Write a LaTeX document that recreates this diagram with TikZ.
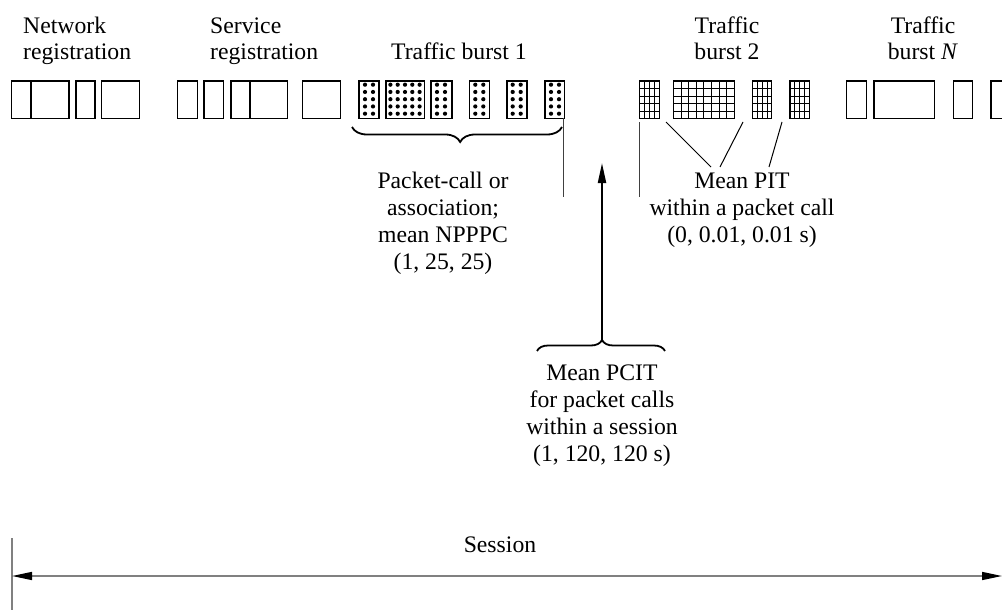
\documentclass[tikz,border=0pt]{standalone}
\usepackage{fontspec}
\setmainfont{Liberation Serif}
\usetikzlibrary{decorations.pathreplacing,arrows.meta}
\begin{document}
\begin{tikzpicture}[x=1pt,y=-1pt,
  box/.style={draw=black,line width=1.3pt},
  dotbox/.style={draw=black,line width=1.6pt},
  gridln/.style={draw=black,line width=0.8pt},
  lbl/.style={font=\fontsize{23.7}{27}\selectfont,inner sep=0pt,anchor=base,align=center},
  lbll/.style={font=\fontsize{23.7}{27}\selectfont,inner sep=0pt,anchor=base west,align=left},
  thinln/.style={draw=black!75,line width=1.2pt},
  pitln/.style={draw=black,line width=1pt},
  bracestyle/.style={draw=black,line width=1.8pt,decorate},
  sessln/.style={draw=black!50,line width=1.5pt},
  tipA/.tip={Triangle[length=20pt,width=8pt,color=black]}
]
\useasboundingbox (0,0) rectangle (1002,610);

% ---- plain boxes ----
\foreach \a/\b in {11.7/31,31/69,76/95,101.7/139.3,
                   177.5/197.5,204/223.3,231/250,250/287.3,302.7/340.7,
                   846.7/866.7,874/934.3,953.3/972.3}
  {\draw[box] (\a,81) rectangle (\b,118.5);}
\draw[box,line width=2pt] (31,81) -- (31,118.5);
\draw[box,line width=2pt] (250,81) -- (250,118.5);
\draw[box] (1003,81) -- (991,81) -- (991,118.5) -- (1003,118.5);

% ---- dotted boxes (traffic burst 1) ----
\foreach \a/\b in {359/379,431/451.7,469.3/489.3,506.7/526.7,545/564.3}{
  \draw[dotbox] (\a,81) rectangle (\b,118.5);
  \foreach \r in {0,...,4}{
    \fill ({\a+6},{84.7+7.25*\r}) circle (2.1);
    \fill ({\a+14},{84.7+7.25*\r}) circle (2.1);
  }
}
\draw[dotbox] (385.7,81) rectangle (424.3,118.5);
\foreach \c in {0,...,4}{
  \foreach \r in {0,...,4}{
    \fill ({390.4+7.3*\c},{84.7+7.25*\r}) circle (2.1);
  }
}

% ---- grid boxes (traffic burst 2) ----
\foreach \a/\b/\n in {639.3/659.3/4,673.3/734.3/8,752.7/771.7/4,790/809.3/4}{
  \foreach \k in {1,...,4}{
    \draw[gridln] (\a,{81+7.5*\k}) -- (\b,{81+7.5*\k});
  }
  \pgfmathtruncatemacro\m{\n-1}
  \foreach \k in {1,...,\m}{
    \draw[gridln] ({\a+(\b-\a)*\k/\n},81) -- ({\a+(\b-\a)*\k/\n},118.5);
  }
  \draw[box] (\a,81) rectangle (\b,118.5);
}

% ---- labels (anchored at the baseline of the last line) ----
\node[lbll] (netlbl) at (23,60) {Network\\registration};
\node[lbll] (svclbl) at (210,60) {Service\\registration};
\node[lbl] (tb1) at (459,60) {Traffic burst 1};
\node[lbl] (tb2) at (727,60) {Traffic\\burst 2};
\node[lbl] (tbn) at (923,60) {Traffic\\burst \textit{N}};
\node[lbl] (pc) at (443,269) {Packet-call or\\association;\\mean NPPPC\\(1, 25, 25)};
\node[lbl] (pit) at (742,242) {Mean PIT\\within a packet call\\(0, 0.01, 0.01 s)};
\node[lbl] (pcit) at (602,461) {Mean PCIT\\for packet calls\\within a session\\(1, 120, 120 s)};
\node[lbl] (sess) at (500,552) {Session};

% ---- brace under burst 1 ----
\coordinate (b1l) at (352,127);
\coordinate (b1r) at (562,127);
\draw[bracestyle,decoration={brace,amplitude=15pt,mirror,aspect=0.515}] (b1l) -- (b1r);

% ---- gap markers ----
\coordinate (g1t) at (563.3,118);
\coordinate (g1b) at (563.3,197);
\coordinate (g2t) at (639.3,122);
\coordinate (g2b) at (639.3,197);
\draw[thinln] (g1t) -- (g1b);
\draw[thinln] (g2t) -- (g2b);

% ---- PIT lines ----
\coordinate (p1) at (666,122);
\coordinate (p2) at (743,122);
\coordinate (p3) at (782,122);
\coordinate (q1) at (711,167);
\coordinate (q2) at (720,167);
\coordinate (q3) at (769,167);
\draw[pitln] (p1) -- (q1);
\draw[pitln] (p2) -- (q2);
\draw[pitln] (p3) -- (q3);

% ---- PCIT brace and arrow ----
\coordinate (b2l) at (537,351);
\coordinate (b2r) at (665,351);
\coordinate (b2tip) at (602,340);
\coordinate (arrtop) at (602,163);
\draw[bracestyle,decoration={brace,amplitude=11pt,aspect=0.508}] (b2l) -- (b2r);
\draw[draw=black,line width=2pt,-tipA] (b2tip) -- (arrtop);

% ---- session ----
\coordinate (sl) at (12,576);
\coordinate (sr) at (1002,576);
\coordinate (vt) at (12,538);
\coordinate (vb) at (12,611);
\draw[sessln] (vt) -- (vb);
\draw[sessln,tipA-tipA] (sl) -- (sr);
\end{tikzpicture}
\end{document}
